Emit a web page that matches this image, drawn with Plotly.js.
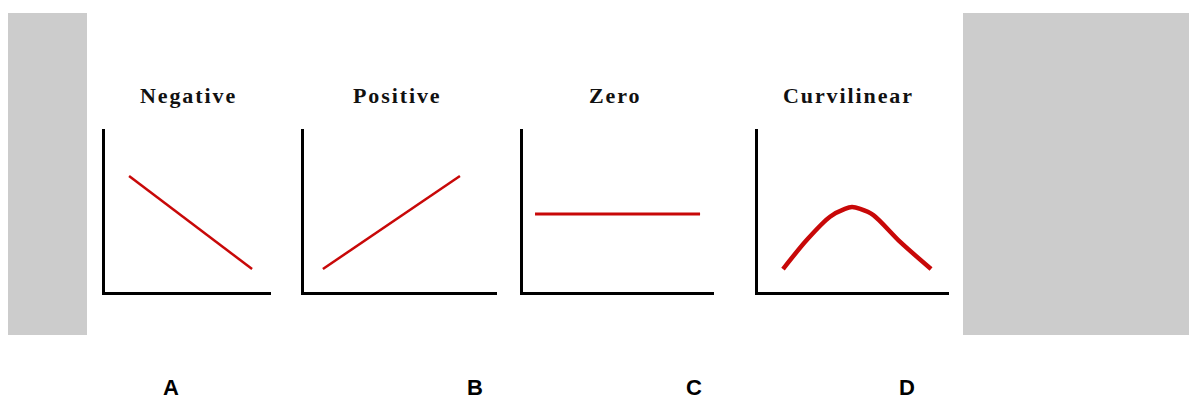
<!DOCTYPE html>
<html>
<head>
<meta charset="utf-8">
<script src="https://cdn.plot.ly/plotly-3.0.1.min.js"></script>
<style>
  html, body { margin: 0; padding: 0; background: #ffffff; }
  #chart { width: 1193px; height: 401px; }
  .annotation-text { letter-spacing: 1.9px; }
</style>
</head>
<body>
<div id="chart"></div>
<script>
// ---- Data (axis units 0..10 in each panel) ----
const panelTitles = ["Negative", "Positive", "Zero", "Curvilinear"];
const panelLetters = ["A", "B", "C", "D"];

const negX = [1.45, 8.86];
const negY = [7.12, 1.41];

const posX = [0.98, 8.08];
const posY = [1.41, 7.12];

const zeroX = [0.63, 9.27];
const zeroY = [4.79, 4.79];

const curvX = [1.31, 2.55, 3.77, 4.55, 4.92, 5.35, 6.04, 7.43, 9.06];
const curvY = [1.41, 3.19, 4.62, 5.10, 5.21, 5.10, 4.72, 3.09, 1.41];

// ---- Layout helpers ----
const W = 1193, H = 401;
const px = x => x / W;
const py = y => 1 - y / H;

const red = "#c80808";

const traces = [
  {x: negX, y: negY, xaxis: "x", yaxis: "y", mode: "lines", line: {color: red, width: 2.5}},
  {x: posX, y: posY, xaxis: "x2", yaxis: "y2", mode: "lines", line: {color: red, width: 2.5}},
  {x: zeroX, y: zeroY, xaxis: "x3", yaxis: "y3", mode: "lines", line: {color: red, width: 3}},
  {x: curvX, y: curvY, xaxis: "x4", yaxis: "y4", mode: "lines", line: {color: red, width: 4.5, shape: "spline", smoothing: 0.8}}
];

const panelPx = [[105, 271], [304, 497], [523, 714], [758, 949]];
const yDom = [py(292), py(129)];

function xAxis(dom) {
  return {domain: [px(dom[0]), px(dom[1])], range: [0, 10], showline: true, linewidth: 3, linecolor: "#000",
          showgrid: false, zeroline: false, showticklabels: false, ticks: "", fixedrange: true};
}
function yAxis(anchor) {
  return {domain: yDom, range: [0, 10], showline: true, linewidth: 3, linecolor: "#000", anchor: anchor,
          showgrid: false, zeroline: false, showticklabels: false, ticks: "", fixedrange: true};
}

const titleCenters = [188, 397, 615, 848];
const letterCenters = [172, 476, 695, 908];

const annotations = [];
panelTitles.forEach((t, i) => {
  annotations.push({text: "<b>" + t + "</b>", xref: "paper", yref: "paper", x: px(titleCenters[i]), y: py(95),
    xanchor: "center", yanchor: "middle", showarrow: false,
    font: {family: "Liberation Serif, Times New Roman, serif", size: 22, color: "#111"}});
});
panelLetters.forEach((t, i) => {
  annotations.push({text: "<b>" + t + "</b>", xref: "paper", yref: "paper", x: px(letterCenters[i]), y: 0,
    xanchor: "center", yanchor: "bottom", showarrow: false, borderpad: 0,
    font: {family: "Liberation Sans, Arial, sans-serif", size: 22, color: "#000"}});
});

const shapes = [
  {type: "rect", xref: "paper", yref: "paper", x0: px(8), x1: px(87), y0: py(335), y1: py(13),
   fillcolor: "#cccccc", line: {width: 0}, layer: "below"},
  {type: "rect", xref: "paper", yref: "paper", x0: px(963), x1: px(1189), y0: py(335), y1: py(13),
   fillcolor: "#cccccc", line: {width: 0}, layer: "below"}
];

const layout = {
  width: W, height: H,
  margin: {l: 0, r: 0, t: 0, b: 0, pad: 0},
  paper_bgcolor: "#ffffff", plot_bgcolor: "rgba(0,0,0,0)",
  showlegend: false,
  xaxis: xAxis(panelPx[0]), yaxis: yAxis("x"),
  xaxis2: xAxis(panelPx[1]), yaxis2: yAxis("x2"),
  xaxis3: xAxis(panelPx[2]), yaxis3: yAxis("x3"),
  xaxis4: xAxis(panelPx[3]), yaxis4: yAxis("x4"),
  annotations: annotations,
  shapes: shapes
};
layout.xaxis.anchor = "y";
layout.xaxis2.anchor = "y2";
layout.xaxis3.anchor = "y3";
layout.xaxis4.anchor = "y4";

Plotly.newPlot("chart", traces, layout, {staticPlot: true, displayModeBar: false});
</script>
</body>
</html>
